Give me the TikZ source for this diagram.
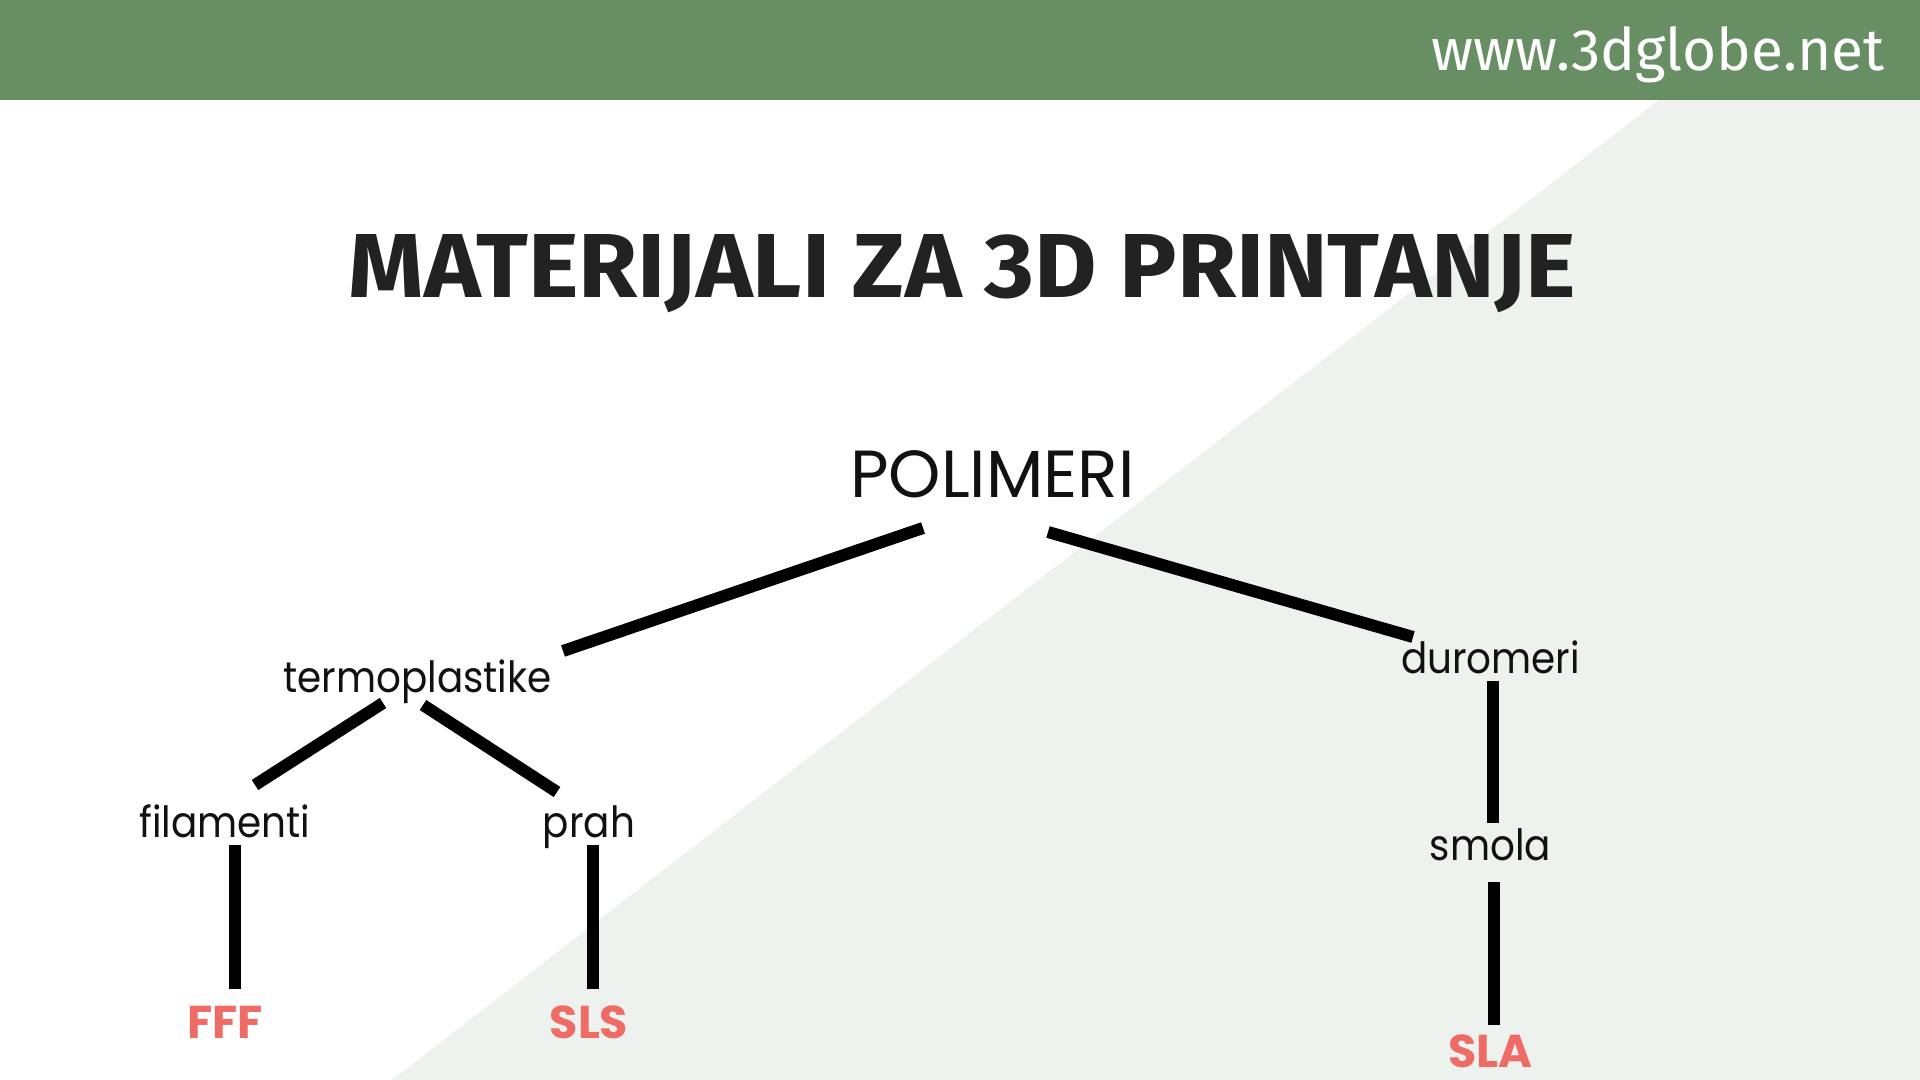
\documentclass[tikz,border=0pt]{standalone}
\usepackage{fontspec}
\setmainfont{Poppins}
\newfontfamily\firafont{Fira Sans}
\usepackage{graphicx}
\definecolor{hdrgreen}{HTML}{678F63}
\definecolor{bggray}{HTML}{EEF2EE}
\definecolor{titlegray}{HTML}{222222}
\definecolor{labelred}{HTML}{EF6B66}
\definecolor{labelblack}{HTML}{111111}
\newcommand\narrowtxt[1]{\scalebox{0.905}[1]{#1}}
\tikzset{
  lbl/.style={anchor=base, inner sep=0pt, text=labelblack, font=\fontsize{21.5}{25}\selectfont},
  toplbl/.style={anchor=base, inner sep=0pt, text=labelblack, font=\fontsize{33.3}{38}\selectfont},
  redlbl/.style={anchor=base, inner sep=0pt, text=labelred, font=\bfseries\fontsize{23}{27}\selectfont},
  conn/.style={line width=6pt, black, line cap=butt},
}
\begin{document}
\begin{tikzpicture}[x=0.5pt,y=-0.5pt]
\useasboundingbox (0,0) rectangle (1920,1080);
% background
\fill[white] (0,0) rectangle (1920,1080);
\fill[bggray] (1659,100) -- (1920,100) -- (1920,1080) -- (392,1080) -- cycle;
\fill[hdrgreen] (0,0) rectangle (1920,100);
\node[anchor=base, inner sep=0pt, text=white, font=\firafont\fontsize{29.3}{33}\selectfont] (url) at (1658,71) {www.3dglobe.net};
% title
\node[anchor=base, inner sep=0pt, text=titlegray] (title) at (962.5,298)
  {\resizebox{613.5pt}{31.5pt}{\firafont\bfseries MATERIJALI ZA 3D PRINTANJE}};
% nodes
\node[toplbl] (pol) at (992.5,497) {POLIMERI};
\node[lbl] (termo) at (417.5,692) {\narrowtxt{termoplastike}};
\node[lbl] (duro) at (1490.5,673) {\narrowtxt{duromeri}};
\node[lbl] (fil) at (225,837) {\narrowtxt{filamenti}};
\node[lbl] (prah) at (589,837) {\narrowtxt{prah}};
\node[lbl] (smola) at (1490.5,860) {\narrowtxt{smola}};
\node[redlbl] (fff) at (225,1038) {FFF};
\node[redlbl] (sls) at (589,1038) {SLS};
\node[redlbl] (sla) at (1490.5,1067) {SLA};
% connectors
\draw[conn] ([shift={(-69.5,31)}]pol.base) -- ([shift={(145.5,-41)}]termo.base);
\draw[conn] ([shift={(55.5,35)}]pol.base) -- ([shift={(-77.5,-36)}]duro.base);
\draw[conn] ([shift={(-34.5,11)}]termo.base) -- ([shift={(30,-52)}]fil.base);
\draw[conn] ([shift={(5.5,13)}]termo.base) -- ([shift={(-32,-45)}]prah.base);
\draw[conn] ([shift={(10,8)}]fil.base) -- ([shift={(10,-49)}]fff.base);
\draw[conn] ([shift={(4,8)}]prah.base) -- ([shift={(4,-49)}]sls.base);
\draw[conn] ([shift={(2.5,8)}]duro.base) -- ([shift={(2.5,-37)}]smola.base);
\draw[conn] ([shift={(3.5,22)}]smola.base) -- ([shift={(3.5,-42)}]sla.base);
\end{tikzpicture}
\end{document}
